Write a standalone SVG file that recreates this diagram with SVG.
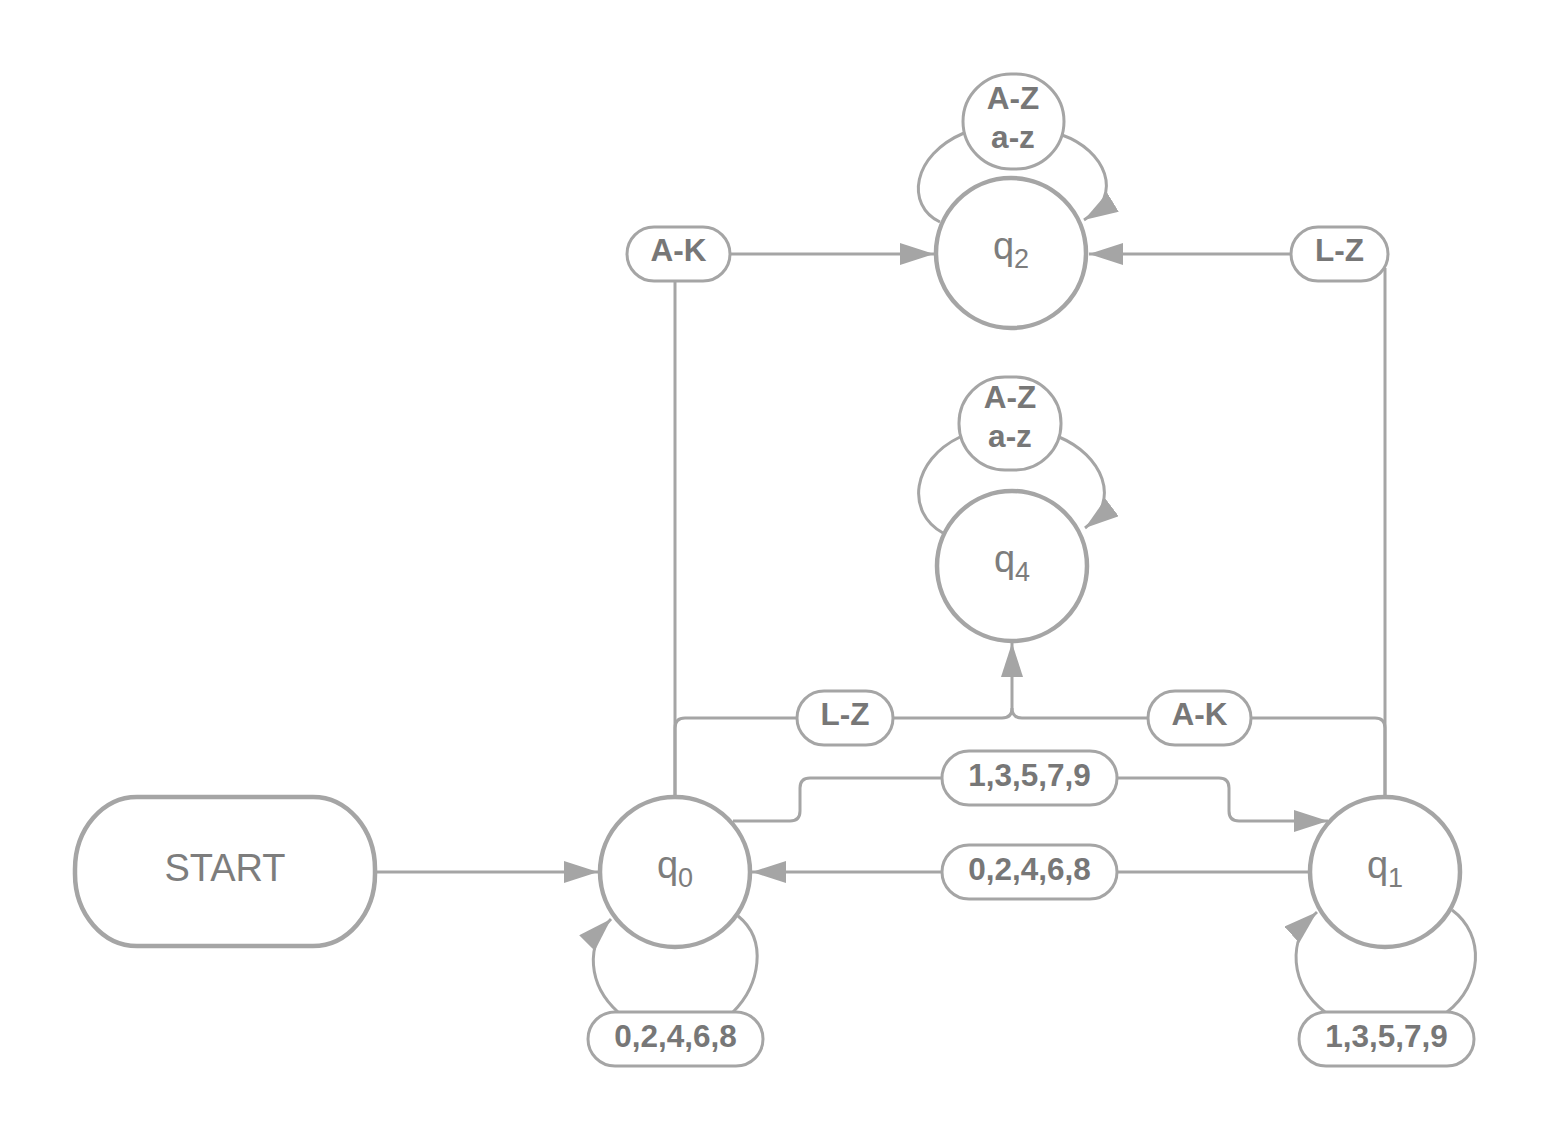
<svg xmlns="http://www.w3.org/2000/svg" width="1553" height="1142" viewBox="0 0 1553 1142">
<defs>
<style>
.st{fill:#fff;stroke:#a5a5a5;stroke-width:4.5}
.lb{fill:#fff;stroke:#a5a5a5;stroke-width:3}
.cn{fill:none;stroke:#a5a5a5;stroke-width:3}
.nt{font-family:"Liberation Sans",Arial,sans-serif;fill:#7d7d7d;text-anchor:middle}
.lt{font-family:"Liberation Sans",Arial,sans-serif;font-weight:bold;font-size:31.5px;fill:#777;text-anchor:middle}
</style>
<marker id="ah" markerUnits="userSpaceOnUse" markerWidth="34" markerHeight="22" refX="34" refY="11" orient="auto" viewBox="0 0 34 22">
<path d="M0,0 L34,11 L0,22 z" fill="#a5a5a5"/>
</marker>
</defs>
<rect width="1553" height="1142" fill="#fff"/>
<g id="connectors">
<path class="cn" d="M376 872 H598" marker-end="url(#ah)"/>
<path class="cn" d="M675 797 V281"/>
<path class="cn" d="M730 254 H934" marker-end="url(#ah)"/>
<path class="cn" d="M1385 797 V268"/>
<path class="cn" d="M1291 254 H1089" marker-end="url(#ah)"/>
<path class="cn" d="M675 797 V728 Q675 718 685 718 H797"/>
<path class="cn" d="M893 718 H1002 Q1012 718 1012 708 V643" marker-end="url(#ah)"/>
<path class="cn" d="M1385 797 V728 Q1385 718 1375 718 H1251"/>
<path class="cn" d="M1148 718 H1022 Q1012 718 1012 708"/>
<path class="cn" d="M733 821 H790 Q800 821 800 811 V788 Q800 778 810 778 H942"/>
<path class="cn" d="M1117 778 H1219 Q1229 778 1229 788 V811 Q1229 821 1239 821 H1328" marker-end="url(#ah)"/>
<path class="cn" d="M1310 872 H1117"/>
<path class="cn" d="M942 872 H752" marker-end="url(#ah)"/>
<path class="cn" d="M738 916 C768 940 760 985 733 1012"/>
<path class="cn" d="M618 1012 C588 985 585 945 611 919" marker-end="url(#ah)"/>
<path class="cn" d="M1452 910 C1486 935 1482 985 1447 1012"/>
<path class="cn" d="M1325 1012 C1290 985 1286 940 1317 912" marker-end="url(#ah)"/>
<path class="cn" d="M940 222 C905 205 912 155 964 133"/>
<path class="cn" d="M1062 135 C1105 150 1125 195 1084 220" marker-end="url(#ah)"/>
<path class="cn" d="M943 533 C905 512 912 460 960 437"/>
<path class="cn" d="M1059 437 C1102 455 1122 500 1085 528" marker-end="url(#ah)"/>
</g>
<g id="start">
<rect class="st" x="75" y="797" width="300" height="149" rx="62" ry="72"/>
<text class="nt" x="225" y="881" font-size="38">START</text>
</g>
<g id="q0">
<circle class="st" cx="675" cy="872" r="75"/>
<text class="nt" x="675" y="878" font-size="38">q<tspan font-size="27" dy="9">0</tspan></text>
</g>
<g id="q1">
<circle class="st" cx="1385" cy="872" r="75"/>
<text class="nt" x="1385" y="878" font-size="38">q<tspan font-size="27" dy="9">1</tspan></text>
</g>
<g id="q2">
<circle class="st" cx="1011" cy="253" r="75"/>
<text class="nt" x="1011" y="259" font-size="38">q<tspan font-size="27" dy="9">2</tspan></text>
</g>
<g id="q4">
<circle class="st" cx="1012" cy="566" r="75"/>
<text class="nt" x="1012" y="572" font-size="38">q<tspan font-size="27" dy="9">4</tspan></text>
</g>
<g id="lbl-q2-loop">
<rect class="lb" x="963" y="74" width="101" height="95" rx="48"/>
<text class="lt" x="1013" y="109">A-Z</text>
<text class="lt" x="1013" y="148">a-z</text>
</g>
<g id="lbl-q4-loop">
<rect class="lb" x="959" y="377" width="102" height="93" rx="46"/>
<text class="lt" x="1010" y="408">A-Z</text>
<text class="lt" x="1010" y="447">a-z</text>
</g>
<g id="lbl-q0-q2">
<rect class="lb" x="627" y="227" width="103" height="54" rx="27"/>
<text class="lt" x="678.5" y="261">A-K</text>
</g>
<g id="lbl-q1-q2">
<rect class="lb" x="1291" y="227" width="97" height="54" rx="27"/>
<text class="lt" x="1339.5" y="261">L-Z</text>
</g>
<g id="lbl-q0-q4">
<rect class="lb" x="797" y="691" width="96" height="54" rx="27"/>
<text class="lt" x="845" y="725">L-Z</text>
</g>
<g id="lbl-q1-q4">
<rect class="lb" x="1148" y="691" width="103" height="54" rx="27"/>
<text class="lt" x="1199.5" y="725">A-K</text>
</g>
<g id="lbl-q0-q1">
<rect class="lb" x="942" y="751" width="175" height="54" rx="27"/>
<text class="lt" x="1029.5" y="786">1,3,5,7,9</text>
</g>
<g id="lbl-q1-q0">
<rect class="lb" x="942" y="845" width="175" height="54" rx="27"/>
<text class="lt" x="1029.5" y="880">0,2,4,6,8</text>
</g>
<g id="lbl-q0-loop">
<rect class="lb" x="588" y="1012" width="175" height="54" rx="27"/>
<text class="lt" x="675.5" y="1047">0,2,4,6,8</text>
</g>
<g id="lbl-q1-loop">
<rect class="lb" x="1299" y="1012" width="175" height="54" rx="27"/>
<text class="lt" x="1386.5" y="1047">1,3,5,7,9</text>
</g>
</svg>
